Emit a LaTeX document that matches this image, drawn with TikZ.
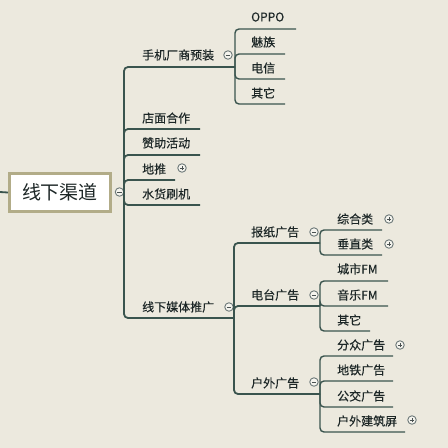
\documentclass[tikz,border=0pt]{standalone}
\usepackage{fontspec}
\newfontfamily\cjk{Noto Sans CJK SC}
\newfontfamily\cjkl[FakeBold=0.25]{Noto Sans CJK SC}
\definecolor{bg}{RGB}{236,233,222}
\definecolor{ln}{RGB}{58,84,78}
\definecolor{tx}{RGB}{28,38,38}
\definecolor{boxb}{RGB}{178,172,136}
\definecolor{cb}{RGB}{110,122,122}
\begin{document}
\begin{tikzpicture}[x=1pt,y=-1pt,
 lbl/.style={anchor=west,inner sep=0pt,font=\cjkl\fontsize{12}{13}\selectfont,text=tx},
 br1/.style={draw=ln,line width=1.8pt,rounded corners=4pt},
 br2/.style={draw=ln,line width=1.4pt,rounded corners=4pt},
 tog/.style={circle,draw=cb,fill=bg!50!white,line width=0.9pt,minimum size=8.5pt,inner sep=0pt},
 minusc/.style={tog,path picture={\draw[line width=1pt,tx!80] ([xshift=-2.2pt]path picture bounding box.center) -- ([xshift=2.2pt]path picture bounding box.center);}},
 plusc/.style={tog,path picture={\draw[line width=0.9pt,tx!80] ([xshift=-2pt]path picture bounding box.center) -- ([xshift=2pt]path picture bounding box.center) ([yshift=-2pt]path picture bounding box.center) -- ([yshift=2pt]path picture bounding box.center);}}
]
\fill[bg] (0,0) rectangle (448,448);
\useasboundingbox (0,0) rectangle (448,448);

% root
\node[draw=boxb,line width=3pt,fill=white,minimum width=101pt,minimum height=38pt,inner sep=0pt,font=\cjk\fontsize{19}{20}\selectfont,text=tx] (root) at (60,192.5) {线下渠道};
\coordinate (s0) at (0,192);
\draw[ln,line width=1.8pt] (s0) -- (root.west);
\coordinate (j0) at (124,192);
\node[minusc] (rc) at (119.5,192) {};

% level 1 junction/ends
\coordinate (j1) at (235,67);
\coordinate (e2) at (200,129);
\coordinate (e3) at (200,155);
\coordinate (e4) at (175,180);
\coordinate (e5) at (200,205);
\coordinate (j6) at (234,318);
\draw[br1] (j0) |- (j1);
\draw[br1] (j0) |- (e2);
\draw[br1] (j0) |- (e3);
\draw[br1] (j0) |- (e4);
\draw[br1] (j0) |- (e5);
\draw[br1] (j0) |- (j6);

\node[lbl] (n1) at (142,55) {手机厂商预装};
\node[lbl] (n2) at (142,118) {店面合作};
\node[lbl] (n3) at (142,143) {赞助活动};
\node[lbl] (n4) at (142,169) {地推};
\node[lbl] (n5) at (142,194) {水货刷机};
\node[lbl] (n6) at (142,307) {线下媒体推广};
\node[minusc] (c1) at (228,55) {};
\node[plusc] (c4) at (182,168) {};
\node[minusc] (c6) at (229,307) {};

% phone branch
\coordinate (e11) at (296,29);
\coordinate (e12) at (285,54);
\coordinate (e13) at (285,79);
\coordinate (e14) at (285,104);
\draw[br2] (j1) |- (e11);
\draw[br2] (j1) |- (e12);
\draw[br2] (j1) |- (e13);
\draw[br2] (j1) |- (e14);
\node[lbl] (n11) at (251,17) {OPPO};
\node[lbl] (n12) at (251,42) {魅族};
\node[lbl] (n13) at (251,68) {电信};
\node[lbl] (n14) at (251,93) {其它};

% media branch
\coordinate (jA) at (320,243);
\coordinate (jB) at (320,306);
\coordinate (jC) at (320,394);
\draw[br1] (j6) |- (jA);
\draw[br1] (j6) |- (jB);
\draw[br1] (j6) |- (jC);
\node[lbl] (nA) at (251,232) {报纸广告};
\node[lbl] (nB) at (251,295) {电台广告};
\node[lbl] (nC) at (251,383) {户外广告};
\node[minusc] (cA) at (314,232) {};
\node[minusc] (cB) at (314,295) {};
\node[minusc] (cC) at (314,382) {};

\coordinate (eA1) at (382,230);
\coordinate (eA2) at (382,255);
\draw[br2] (jA) |- (eA1);
\draw[br2] (jA) |- (eA2);
\node[lbl] (nA1) at (337,219) {综合类};
\node[lbl] (nA2) at (337,244) {垂直类};
\node[plusc] (cA1) at (389,219) {};
\node[plusc] (cA2) at (389,244) {};

\coordinate (eB1) at (388,281);
\coordinate (eB2) at (388,306);
\coordinate (eB3) at (370,331);
\draw[br2] (jB) |- (eB1);
\draw[br2] (jB) |- (eB2);
\draw[br2] (jB) |- (eB3);
\node[lbl] (nB1) at (337,269) {城市FM};
\node[lbl] (nB2) at (337,295) {音乐FM};
\node[lbl] (nB3) at (337,320) {其它};

\coordinate (eC1) at (393,356);
\coordinate (eC2) at (393,381);
\coordinate (eC3) at (393,407);
\coordinate (eC4) at (405,432);
\draw[br2] (jC) |- (eC1);
\draw[br2] (jC) |- (eC2);
\draw[br2] (jC) |- (eC3);
\draw[br2] (jC) |- (eC4);
\node[lbl] (nC1) at (337,345) {分众广告};
\node[lbl] (nC2) at (337,370) {地铁广告};
\node[lbl] (nC3) at (337,396) {公交广告};
\node[lbl] (nC4) at (337,421) {户外建筑屏};
\node[plusc] (cC1) at (400,345) {};
\node[plusc] (cC4) at (412,420) {};
\end{tikzpicture}
\end{document}
